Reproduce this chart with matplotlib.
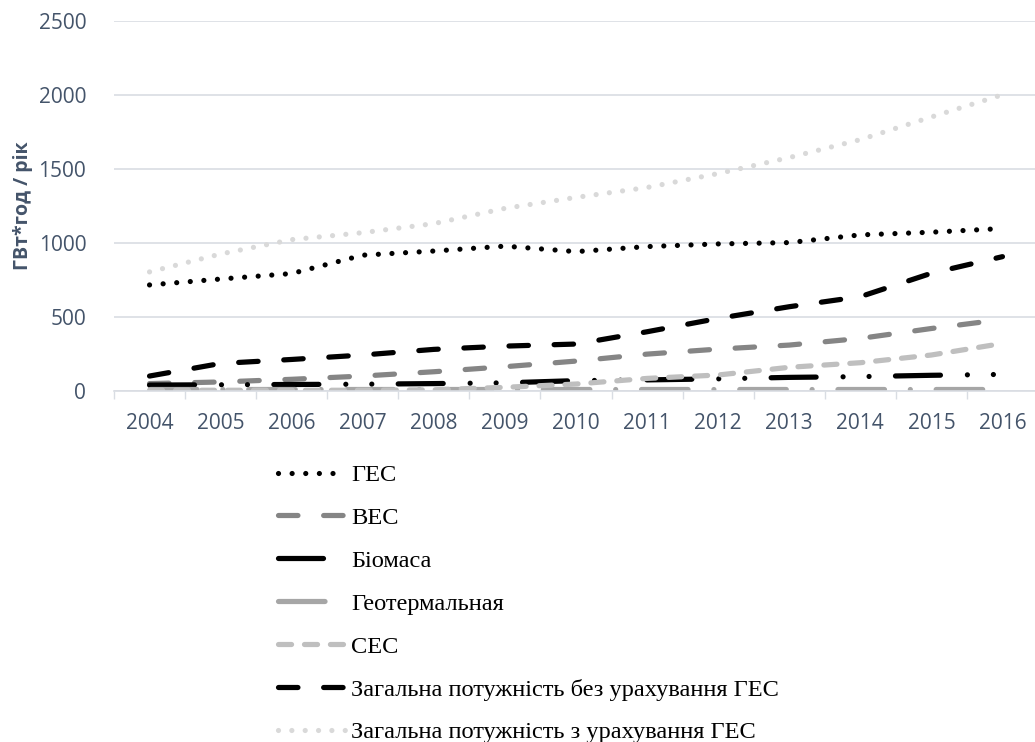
import matplotlib
matplotlib.use('Agg')
import matplotlib.pyplot as plt

# Дані (ГВт*год / рік)
years = ['2004', '2005', '2006', '2007', '2008', '2009', '2010',
         '2011', '2012', '2013', '2014', '2015', '2016']
ges = [716, 756, 793, 917, 945, 978, 941, 975, 993, 1002, 1054, 1072, 1097]
ves = [50, 61, 79, 101, 130, 164, 202, 249, 283, 310, 355, 422, 483]
biomasa = [40, 42, 44, 46, 50, 55, 70, 75, 82, 92, 97, 106, 112]
geoterm = [15, 15, 15, 15, 15, 15, 15, 15, 15, 15, 15, 15, 15]
ses = [5, 5, 5, 5, 8, 25, 47, 85, 108, 160, 191, 243, 321]
total_bez_ges = [101, 186, 213, 243, 281, 303, 317, 400, 490, 569, 637, 795, 907]
total_z_ges = [804, 925, 1022, 1069, 1130, 1233, 1307, 1374, 1468, 1576, 1697, 1850, 2000]

plt.rcParams['lines.scale_dashes'] = False
plt.rcParams['lines.dash_capstyle'] = 'round'
plt.rcParams['lines.solid_capstyle'] = 'round'

fig = plt.figure(figsize=(10.35, 7.42), dpi=100)
ax = fig.add_axes([114 / 1035, 351 / 742, 924 / 1035, 370.3 / 742])

x = list(range(len(years)))
lw = 3.75

series = [
    (ges, 'ГЕС', 'black', (0, (0.01, 9.8))),
    (ves, 'ВЕС', '#858585', (0, (14, 18.5))),
    (biomasa, 'Біомаса', 'black', (0, (32.4, 19.4, 0.01, 18.7, 0.01, 19))),
    (geoterm, 'Геотермальная', '#a6a6a6', (0, (33.5, 18.6, 0.01, 18.6))),
    (ses, 'СЕС', '#bfbfbf', (0, (9.4, 9.3))),
    (total_bez_ges, 'Загальна потужність без урахування ГЕС', 'black', (0, (14, 18.5))),
    (total_z_ges, 'Загальна потужність з урахування ГЕС', '#d9d9d9', (0, (0.01, 9.6))),
]
for vals, name, col, ls in series:
    ax.plot(x, vals, color=col, lw=lw, linestyle=ls, label=name)

ax.set_xlim(-0.5, 12.5)
ax.set_ylim(0, 2500)
ax.set_yticks(range(0, 2501, 500))
ax.set_xticks(x)
ax.set_xticklabels(years)
ax.set_xticks([i + 0.5 for i in range(-1, 13)], minor=True)

for lab in ax.get_xticklabels() + ax.get_yticklabels():
    lab.set_fontfamily('Open Sans')
    lab.set_fontsize(15)
    lab.set_color('#44546a')

ax.tick_params(axis='x', which='major', length=0, pad=16)
ax.tick_params(axis='x', which='minor', length=6, width=1, color='#d9dde3')
ax.tick_params(axis='y', length=0, pad=20)

ax.grid(axis='y', color='#d9dde3', lw=1.2)
ax.set_axisbelow(True)
for s in ['top', 'right', 'left']:
    ax.spines[s].set_visible(False)
ax.spines['bottom'].set_color('#d9dde3')
ax.spines['bottom'].set_linewidth(1.2)

ax.set_ylabel('ГВт*год / рік', fontfamily='Open Sans', fontweight='bold',
              fontsize=14, color='#44546a')
ax.yaxis.set_label_coords(-0.088, 0.5)

leg = fig.legend(loc='upper left', bbox_to_anchor=(278 / 1035, 1 - 464 / 742),
                 frameon=False, ncol=1, borderpad=0, borderaxespad=0,
                 handlelength=2.75, handletextpad=0.24, labelspacing=0.85,
                 prop={'family': 'Liberation Serif', 'size': 17.6})
for t in leg.get_texts():
    t.set_color('black')

fig.savefig('out.png', dpi=100)
